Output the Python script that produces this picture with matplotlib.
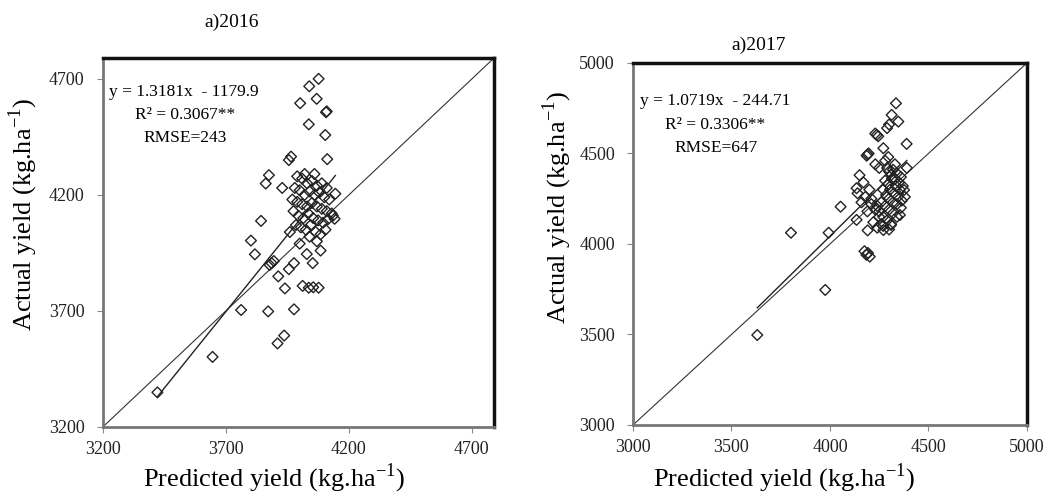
import matplotlib.pyplot as plt

plt.rcParams['font.family'] = ['Liberation Serif', 'DejaVu Serif']
plt.rcParams['mathtext.fontset'] = 'custom'
plt.rcParams['mathtext.rm'] = 'Liberation Serif'

# 2016 data (predicted, actual)
pred_2016 = [4077, 4039, 4002, 4069, 4107, 4110, 4037, 4104, 4112, 3956, 3965, 3875, 3862,
             3929, 4145, 4142, 3843, 3802, 3818, 3886, 3895, 3878, 3913, 3940, 3977, 3956,
             4029, 4053, 4012, 4037, 4055, 4077, 3762, 3872, 3977, 3937, 3910, 3646, 3422,
             3990, 4010, 4030, 4050, 4070, 4090, 4110, 3980, 4000, 4020, 4040, 4060, 4080,
             4100, 4120, 3970, 3990, 4010, 4030, 4050, 4070, 4090, 4110, 4130, 3975, 3995,
             4015, 4035, 4055, 4075, 4095, 4115, 4135, 3985, 4005, 4025, 4045, 4065, 4085,
             4105, 4040, 4070, 3960, 4020, 4060, 4000, 4085]
act_2016 = [4700, 4668, 4595, 4614, 4556, 4560, 4504, 4458, 4354, 4350, 4365, 4285, 4249,
            4230, 4205, 4097, 4088, 4003, 3944, 3906, 3915, 3898, 3849, 3797, 3906, 3880,
            3945, 3906, 3808, 3800, 3802, 3800, 3704, 3698, 3707, 3594, 3560, 3502, 3349,
            4280, 4270, 4250, 4260, 4240, 4250, 4230, 4230, 4220, 4200, 4215, 4200, 4210,
            4190, 4180, 4180, 4170, 4160, 4150, 4165, 4150, 4140, 4130, 4120, 4130, 4110,
            4100, 4120, 4100, 4090, 4080, 4095, 4110, 4070, 4060, 4050, 4070, 4040, 4030,
            4050, 4020, 4000, 4040, 4290, 4290, 3990, 3960]

# 2017 data (predicted, actual)
pred_2017 = [3631, 3802, 3976, 3993, 4054, 4335, 4313, 4347, 4300, 4290, 4237, 4230, 4245,
             4271, 4389, 4191, 4196, 4186, 4296, 4376, 4355, 4135, 4193, 4202, 4175, 4185,
             4271, 4191, 4135, 4310,
             4290, 4300, 4310, 4320, 4330, 4340, 4350, 4360, 4370, 4280, 4295, 4305, 4315,
             4325, 4335, 4345, 4355, 4365, 4270, 4285, 4300, 4320, 4340, 4360, 4380, 4260,
             4280, 4300, 4320, 4340, 4250, 4270, 4290, 4310, 4150, 4170, 4200, 4180, 4210,
             4230, 4250, 4260, 4240, 4220, 4190, 4160, 4140, 4230, 4250, 4280, 4330, 4390,
             4210, 4240, 4270, 4300]
act_2017 = [3497, 4062, 3746, 4062, 4206, 4777, 4713, 4676, 4660, 4640, 4602, 4610, 4595,
            4529, 4553, 4494, 4500, 4488, 4480, 4298, 4160, 4308, 3950, 3930, 3960, 3940,
            4077, 4075, 4133, 4105,
            4420, 4400, 4380, 4410, 4360, 4390, 4340, 4370, 4320, 4350, 4330, 4300, 4360,
            4280, 4320, 4260, 4300, 4240, 4300, 4270, 4250, 4230, 4220, 4200, 4260, 4230,
            4210, 4190, 4170, 4150, 4180, 4150, 4130, 4110, 4380, 4340, 4300, 4260, 4220,
            4190, 4150, 4110, 4090, 4120, 4180, 4230, 4280, 4440, 4420, 4460, 4440, 4420,
            4250, 4210, 4100, 4080]

panels = [
    dict(title="a)2016", x=pred_2016, y=act_2016, lim=(3200, 4790), ticks=[3200, 3700, 4200, 4700],
         coef=(1.3181, -1179.9), lines=["y = 1.3181x  - 1179.9", "R² = 0.3067**", "RMSE=243"],
         pos=[0.098, 0.1426, 0.373, 0.741], title_xy=(0.33, 1.0 + 36 / 369),
         ylab=(-0.16, 0.575), xlab=(0.437, -0.093), txt=[(0.015, 0.909), (0.21, 0.846), (0.21, 0.783)]),
    dict(title="a)2017", x=pred_2017, y=act_2017, lim=(3000, 5000), ticks=[3000, 3500, 4000, 4500, 5000],
         coef=(1.0719, -244.71), lines=["y = 1.0719x  - 244.71", "R² = 0.3306**", "RMSE=647"],
         pos=[0.6034, 0.1466, 0.3756, 0.727], title_xy=(0.32, 1.0 + 18 / 362),
         ylab=(-0.15, 0.6), xlab=(0.384, -0.1), txt=[(0.018, 0.896), (0.208, 0.829), (0.21, 0.765)]),
]

fig = plt.figure(figsize=(10.49, 4.98), dpi=100)

for p in panels:
    ax = fig.add_axes(p["pos"])
    lo, hi = p["lim"]
    ax.scatter(p["x"], p["y"], marker="D", s=30, facecolors="none",
               edgecolors="#222222", linewidths=1.0, zorder=3)
    # 1:1 line
    ax.plot([lo, hi], [lo, hi], color="#333333", linewidth=0.8, zorder=2)
    # trend line
    a, b = p["coef"]
    xmin, xmax = min(p["x"]), max(p["x"])
    ax.plot([xmin, xmax], [a * xmin + b, a * xmax + b], color="#222222", linewidth=1.0, zorder=2)

    ax.set_xlim(lo, hi)
    ax.set_ylim(lo, hi)
    ax.set_xticks(p["ticks"])
    ax.set_yticks(p["ticks"])
    ax.tick_params(axis="both", labelsize=13, length=4, width=0.8, color="#888888",
                   labelcolor="#222222")
    ax.tick_params(axis="y", pad=9)
    ax.tick_params(axis="x", pad=6)
    for side in ["left", "bottom"]:
        ax.spines[side].set_linewidth(2.0)
        ax.spines[side].set_color("#777777")
    for side in ["top", "right"]:
        ax.spines[side].set_linewidth(2.5)
        ax.spines[side].set_color("#111111")

    ax.set_xlabel("Predicted yield (kg.ha$^{\\mathregular{-1}}$)", fontsize=19)
    ax.set_ylabel("Actual yield (kg.ha$^{\\mathregular{-1}}$)", fontsize=19)
    ax.xaxis.set_label_coords(*p["xlab"])
    ax.yaxis.set_label_coords(*p["ylab"])
    ax.text(p["title_xy"][0], p["title_xy"][1], p["title"], transform=ax.transAxes, ha="center",
            va="center", fontsize=14)

    (x0, y0), (x1, y1), (x2, y2) = p["txt"]
    ax.text(x0, y0, p["lines"][0], transform=ax.transAxes, fontsize=12.5, ha="left", va="center")
    ax.text(x1, y1, p["lines"][1], transform=ax.transAxes, fontsize=12.5, ha="center", va="center")
    ax.text(x2, y2, p["lines"][2], transform=ax.transAxes, fontsize=12.5, ha="center", va="center")

fig.savefig("out.png", dpi=100)
